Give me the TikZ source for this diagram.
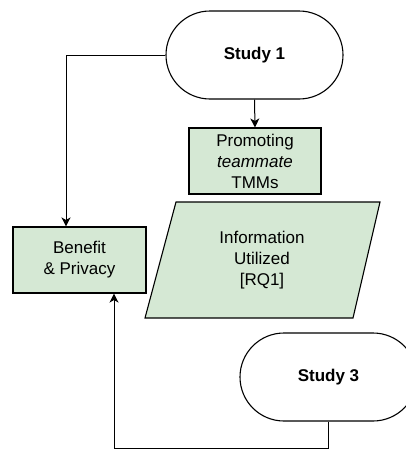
\documentclass[tikz,border=0pt]{standalone}
\usepackage{fontspec}
\setmainfont{Liberation Sans}
\usetikzlibrary{arrows.meta}
\definecolor{boxgreen}{HTML}{D5E8D4}
\begin{document}
\begin{tikzpicture}[x=1pt,y=-1pt,
  every node/.style={font=\fontsize{17}{21}\selectfont, align=center, inner sep=0pt},
  terminal/.style={draw, line width=1.1pt, fill=white, minimum width=177pt,
                   minimum height=88pt, rounded corners=44pt, font=\fontsize{17}{21}\selectfont\bfseries},
  greenbox/.style={draw, line width=1.1pt, fill=boxgreen},
  arr/.style={line width=1pt, -{Stealth[length=9pt,width=9pt,inset=2.5pt]}}
]
\useasboundingbox (0,0) rectangle (406,450);
\begin{scope}
  \clip (0,0) rectangle (406,450);

  % start / end terminals
  \node[terminal] (s1) at (254.5,55) {Study 1};
  \node[terminal] (s3) at (328.5,377) {Study 3};

  % process boxes
  \node[greenbox, minimum width=132pt, minimum height=66pt] (prom) at (255,161)
    {Promoting\\\textit{teammate}\\TMMs};
  \node[greenbox, minimum width=133pt, minimum height=66pt] (ben) at (79.5,260)
    {Benefit\\\& Privacy};

  % data (parallelogram)
  \draw[line width=1.1pt, fill=boxgreen] (176,202) -- (380,202) -- (353,318) -- (145,318) -- cycle;
  \node (info) at (262,260) {Information\\Utilized\\{[RQ1]}};

  % connectors
  \draw[arr] (s1.south) -- (prom.north);
  \draw[arr] (s1.west) -| ([xshift=-13.5pt]ben.north);
  \draw[arr] (s3.south) -- ++(0,27) -| ([xshift=34.5pt]ben.south);
\end{scope}
\end{tikzpicture}
\end{document}
